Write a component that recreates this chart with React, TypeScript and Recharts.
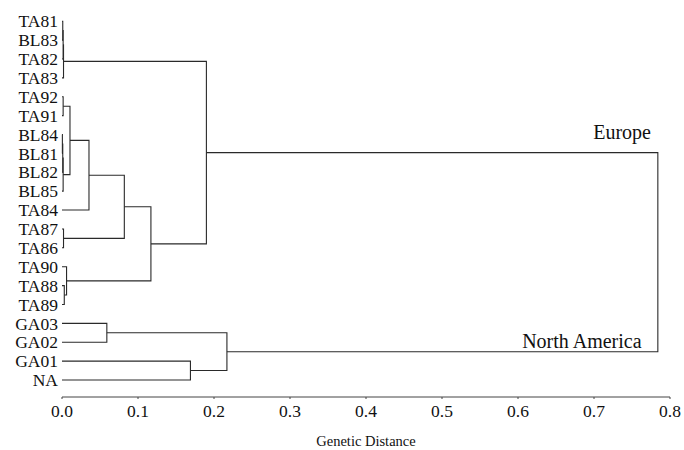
import { LineChart, Line, XAxis, YAxis, ReferenceDot } from 'recharts'

// leaf order top to bottom
const LEAVES = [
  'TA81', 'BL83', 'TA82', 'TA83', 'TA92', 'TA91', 'BL84', 'BL81', 'BL82', 'BL85',
  'TA84', 'TA87', 'TA86', 'TA90', 'TA88', 'TA89', 'GA03', 'GA02', 'GA01', 'NA',
]

// merges m0..m18 (linkage style): two children joined at a genetic distance
const MERGE_A = ['TA81', 'm0', 'm1', 'TA92', 'BL84', 'm4', 'm5', 'm3', 'm7', 'TA87', 'm8', 'TA88', 'TA90', 'm10', 'm2', 'GA03', 'GA01', 'm15', 'm14']
const MERGE_B = ['BL83', 'TA82', 'TA83', 'TA91', 'BL81', 'BL82', 'BL85', 'm6', 'TA84', 'TA86', 'm9', 'TA89', 'm11', 'm12', 'm13', 'GA02', 'NA', 'm16', 'm17']
const MERGE_HEIGHT = [0.001, 0.0015, 0.002, 0.0015, 0.0005, 0.001, 0.0015, 0.0105, 0.0355, 0.002, 0.082, 0.003, 0.006, 0.117, 0.19, 0.059, 0.169, 0.217, 0.784]

const X_TICKS = [0, 0.1, 0.2, 0.3, 0.4, 0.5, 0.6, 0.7, 0.8]

const FONT = "'Liberation Serif', 'Times New Roman', serif"
const INK = '#111'

type Node = { x: number; y: number }

function buildTree() {
  const nodes: Record<string, Node> = {}
  LEAVES.forEach((name, i) => { nodes[name] = { x: 0, y: i } })
  const segments: Node[][] = []
  MERGE_HEIGHT.forEach((h, i) => {
    const a = nodes[MERGE_A[i]]
    const b = nodes[MERGE_B[i]]
    nodes['m' + i] = { x: h, y: (a.y + b.y) / 2 }
    segments.push([
      { x: a.x, y: a.y },
      { x: h, y: a.y },
      { x: h, y: b.y },
      { x: b.x, y: b.y },
    ])
  })
  return { nodes, segments }
}

const { nodes, segments } = buildTree()

export default function App() {
  return (
    <div style={{ fontFamily: FONT }}>
      <style>{`
        body { margin: 0; overflow: hidden; }
        svg text, .recharts-text { font-family: ${FONT} !important; }
      `}</style>
      <LineChart width={684} height={450} margin={{ top: 8, right: 14, bottom: 0, left: 8 }}>
        <XAxis
          type="number"
          dataKey="x"
          domain={[0, 0.8]}
          ticks={X_TICKS}
          tickFormatter={(v: number) => v.toFixed(1)}
          height={53}
          tickSize={2}
          tickMargin={6}
          stroke="#444"
          tick={{ fontSize: 17.5, fill: INK }}
          label={{ value: 'Genetic Distance', position: 'insideBottom', offset: 4, fontSize: 14.5, fill: INK }}
        />
        <YAxis
          type="number"
          dataKey="y"
          reversed
          domain={[-0.7, 19.9]}
          allowDataOverflow
          ticks={LEAVES.map((_, i) => i)}
          interval={0}
          tickFormatter={(i: number) => LEAVES[i] ?? ''}
          width={54}
          axisLine={false}
          tickLine={false}
          tickSize={3}
          tickMargin={1}
          tick={{ fontSize: 17.5, fill: INK }}
        />
        {segments.map((seg, i) => (
          <Line
            key={i}
            data={seg}
            dataKey="y"
            stroke="#2a2a2a"
            strokeWidth={1.1}
            dot={false}
            activeDot={false}
            isAnimationActive={false}
          />
        ))}
        <ReferenceDot
          x={0.737}
          y={nodes.m14.y}
          r={0}
          label={{ value: 'Europe', position: 'top', offset: 14, fontSize: 20, fill: INK }}
        />
        <ReferenceDot
          x={0.684}
          y={nodes.m17.y}
          r={0}
          label={{ value: 'North America', position: 'top', offset: 4, fontSize: 20, fill: INK }}
        />
      </LineChart>
    </div>
  )
}
